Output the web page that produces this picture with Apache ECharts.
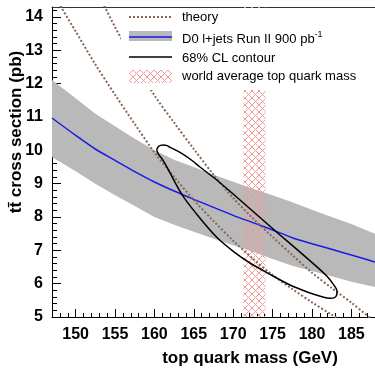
<!DOCTYPE html>
<html>
<head>
<meta charset="utf-8">
<script src="https://cdn.jsdelivr.net/npm/echarts@6/dist/echarts.min.js"></script>
<style>
  html, body { margin: 0; padding: 0; background: #fff; }
  #chart { width: 375px; height: 370px; }
</style>
</head>
<body>
<div id="chart"></div>
<script>
// axis ranges and tick labels
const massMin = 147, massMax = 188
const xsecMin = 5, xsecMax = 14.3
const massTicks = [150, 155, 160, 165, 170, 175, 180, 185]
const xsecTicks = [5, 6, 7, 8, 9, 10, 11, 12, 13, 14]

// D0 measurement vs assumed mass (central value and band edges)
const mass = [147, 150, 152.5, 155, 157.5, 160, 162.5, 165, 167.5, 170, 172.5, 175, 177.5, 180, 182.5, 185, 188]
const d0Xsec = [10.97, 10.45, 10.04, 9.7, 9.36, 9.05, 8.78, 8.53, 8.29, 8.05, 7.83, 7.61, 7.38, 7.2, 7.03, 6.86, 6.65]
const d0BandHigh = [12.11, 11.56, 11.1, 10.72, 10.35, 10.0, 9.72, 9.5, 9.27, 9.06, 8.85, 8.65, 8.44, 8.22, 8.0, 7.79, 7.5]
const d0BandLow = [9.8, 9.37, 9.0, 8.65, 8.33, 8.0, 7.77, 7.56, 7.35, 7.15, 6.96, 6.74, 6.54, 6.38, 6.22, 6.06, 5.9]

// theory curves (lower / upper edge)
const theoryLow = [14.75, 13.57, 12.58, 11.67, 10.79, 9.94, 9.2, 8.51, 7.88, 7.29, 6.75, 6.26, 5.84, 5.44, 5.07, 4.72, 4.4]
const theoryHigh = [null, null, 14.88, 13.7, 12.64, 11.65, 10.83, 10.04, 9.27, 8.57, 7.96, 7.4, 6.86, 6.33, 5.87, 5.43, 4.85]

// 68% CL contour, traced clockwise from the upper-left tip
const contourMass = [160.29, 160.46, 160.77, 161.13, 161.6, 161.98, 163.25, 164.52, 165.79, 167.91, 169.85, 171.88, 173.91, 175.94, 178.23, 180.6, 181.91, 182.92, 183.18, 183.14, 182.86, 182.29, 181.27, 179.75, 177.21, 174.67, 172.13, 170.01, 167.91, 165.79, 163.67, 162.61, 161.56, 160.9, 160.49, 160.29]
const contourXsec = [10.01, 10.1, 10.15, 10.16, 10.14, 10.09, 9.94, 9.74, 9.5, 9.11, 8.72, 8.3, 7.88, 7.46, 7.0, 6.51, 6.22, 5.91, 5.78, 5.66, 5.58, 5.56, 5.61, 5.72, 5.96, 6.28, 6.62, 6.97, 7.39, 7.96, 8.61, 9.04, 9.51, 9.77, 9.89, 10.01]

// world average top mass
const worldAvgMass = [171.3, 174.1]

const theoryColor = '#8c6552'
const bandColor = '#b9b9b9'
const blue = '#1a1ae6'
const font = '"Liberation Sans", Arial, sans-serif'

// minor ticks
const massMinor = []
for (let m = massMin; m <= massMax; m++) massMinor.push(m)
const xsecMinor = []
for (let k = 0; xsecMin + k * 0.2 <= xsecMax + 1e-9; k++) xsecMinor.push(+(xsecMin + k * 0.2).toFixed(1))

// cross hatch pattern
const hatch = document.createElement('canvas')
hatch.width = hatch.height = 7
const hc = hatch.getContext('2d')
hc.strokeStyle = '#f09a9a'
hc.lineWidth = 1
hc.beginPath()
hc.moveTo(0, 0); hc.lineTo(7, 7)
hc.moveTo(7, 0); hc.lineTo(0, 7)
hc.stroke()
const hatchFill = { image: hatch, repeat: 'repeat' }

const pairs = (xs, ys) => xs.map((x, i) => [x, ys[i]])

const chart = echarts.init(document.getElementById('chart'), null, { renderer: 'canvas' })

const tickStyle = { color: '#000', width: 1 }

chart.setOption({
  animation: false,
  backgroundColor: '#fff',
  grid: { left: 52, right: 0, top: 7, bottom: 53, containLabel: false, outerBoundsMode: 'none' },
  xAxis: [
    {
      type: 'value', min: massMin, max: massMax, position: 'bottom',
      axisLine: { onZero: false, lineStyle: tickStyle },
      axisTick: { inside: true, length: 8, customValues: massTicks, lineStyle: tickStyle },
      axisLabel: { customValues: massTicks, margin: 10, color: '#000', fontFamily: font, fontWeight: 'bold', fontSize: 16 },
      splitLine: { show: false },
      name: 'top quark mass (GeV)',
      nameLocation: 'middle',
      nameGap: 33,
      nameMoveOverlap: false,
      nameTextStyle: { color: '#000', fontFamily: font, fontWeight: 'bold', fontSize: 17, padding: [0, 0, 0, 73] }
    },
    {
      type: 'value', min: massMin, max: massMax, position: 'bottom',
      axisLine: { show: false },
      axisTick: { inside: true, length: 4, customValues: massMinor, lineStyle: tickStyle },
      axisLabel: { show: false },
      splitLine: { show: false }
    },
    {
      type: 'value', min: massMin, max: massMax, position: 'top',
      axisLine: { onZero: false, lineStyle: { color: '#333', width: 1 } },
      axisTick: { show: false },
      axisLabel: { show: false },
      splitLine: { show: false }
    }
  ],
  yAxis: [
    {
      type: 'value', min: xsecMin, max: xsecMax, position: 'left',
      axisLine: { show: true, onZero: false, lineStyle: tickStyle },
      axisTick: { show: true, inside: true, length: 9, customValues: xsecTicks, lineStyle: tickStyle },
      axisLabel: { customValues: xsecTicks, margin: 9, color: '#000', fontFamily: font, fontWeight: 'bold', fontSize: 16 },
      splitLine: { show: false },
      name: 't\u0074\u0304 cross section (pb)',
      nameLocation: 'middle',
      nameGap: 27,
      nameMoveOverlap: false,
      nameTextStyle: { color: '#000', fontFamily: font, fontWeight: 'bold', fontSize: 17, padding: [0, 0, 0, 60] }
    },
    {
      type: 'value', min: xsecMin, max: xsecMax, position: 'left',
      axisLine: { show: false },
      axisTick: { show: true, inside: true, length: 5, customValues: xsecMinor, lineStyle: tickStyle },
      axisLabel: { show: false },
      splitLine: { show: false }
    }
  ],
  series: [
    {
      name: 'D0 band',
      type: 'custom',
      xAxisIndex: 0, yAxisIndex: 0,
      z: 1,
      data: [[massMin, xsecMin]],
      renderItem: (params, api) => {
        const upper = mass.map((m, i) => api.coord([m, d0BandHigh[i]]))
        const lower = mass.map((m, i) => api.coord([m, d0BandLow[i]])).reverse()
        return { type: 'polygon', shape: { points: upper.concat(lower) }, style: { fill: bandColor } }
      }
    },
    {
      name: 'world average',
      type: 'custom',
      xAxisIndex: 0, yAxisIndex: 0,
      z: 2,
      data: [[worldAvgMass[0], xsecMin]],
      renderItem: (params, api) => {
        const p0 = api.coord([worldAvgMass[0], xsecMax])
        const p1 = api.coord([worldAvgMass[1], xsecMin])
        return {
          type: 'rect',
          shape: { x: p0[0], y: p0[1], width: p1[0] - p0[0], height: p1[1] - p0[1] },
          style: { fill: hatchFill }
        }
      }
    },
    {
      name: 'D0',
      type: 'line',
      xAxisIndex: 0, yAxisIndex: 0,
      z: 3,
      data: pairs(mass, d0Xsec),
      smooth: 0.3,
      showSymbol: false,
      lineStyle: { color: blue, width: 1.5 }
    },
    {
      name: 'theory low',
      type: 'line',
      xAxisIndex: 0, yAxisIndex: 0,
      z: 4,
      data: pairs(mass, theoryLow),
      smooth: 0.3,
      showSymbol: false,
      lineStyle: { color: theoryColor, width: 2, type: [2, 2] }
    },
    {
      name: 'theory high',
      type: 'line',
      xAxisIndex: 0, yAxisIndex: 0,
      z: 4,
      data: pairs(mass, theoryHigh),
      smooth: 0.3,
      showSymbol: false,
      lineStyle: { color: theoryColor, width: 2, type: [2, 2] }
    },
    {
      name: '68% CL contour',
      type: 'line',
      xAxisIndex: 0, yAxisIndex: 0,
      z: 5,
      data: pairs(contourMass, contourXsec),
      smooth: 0.2,
      showSymbol: false,
      lineStyle: { color: '#000', width: 1.5 }
    }
  ],
  graphic: [
    { type: 'rect', z: 100, shape: { x: 121, y: 8, width: 254, height: 82 }, style: { fill: '#fff' } },
    { type: 'line', z: 101, shape: { x1: 129, y1: 17, x2: 173, y2: 17 }, style: { stroke: theoryColor, lineWidth: 2, lineDash: [2, 2] } },
    { type: 'rect', z: 101, shape: { x: 129, y: 31, width: 43, height: 10 }, style: { fill: bandColor } },
    { type: 'line', z: 102, shape: { x1: 129, y1: 37, x2: 172, y2: 37 }, style: { stroke: blue, lineWidth: 1.5 } },
    { type: 'line', z: 101, shape: { x1: 129, y1: 57, x2: 172, y2: 57 }, style: { stroke: '#000', lineWidth: 1.5 } },
    { type: 'rect', z: 101, shape: { x: 129, y: 70, width: 43, height: 13 }, style: { fill: hatchFill } },
    { type: 'text', z: 101, x: 182, y: 17, style: { text: 'theory', fill: '#000', font: '13px ' + font, verticalAlign: 'middle' } },
    {
      type: 'text', z: 101, x: 182, y: 39,
      style: {
        text: '{a|D0 l+jets Run II 900 pb}{s|-1}',
        verticalAlign: 'middle',
        rich: {
          a: { fill: '#000', fontSize: 13, fontFamily: font },
          s: { fill: '#000', fontSize: 9, fontFamily: font, padding: [0, 0, 9, 0] }
        }
      }
    },
    { type: 'text', z: 101, x: 182, y: 58, style: { text: '68% CL contour', fill: '#000', font: '13px ' + font, verticalAlign: 'middle' } },
    { type: 'text', z: 101, x: 182, y: 76, style: { text: 'world average top quark mass', fill: '#000', font: '13px ' + font, verticalAlign: 'middle' } }
  ]
})
</script>
</body>
</html>
